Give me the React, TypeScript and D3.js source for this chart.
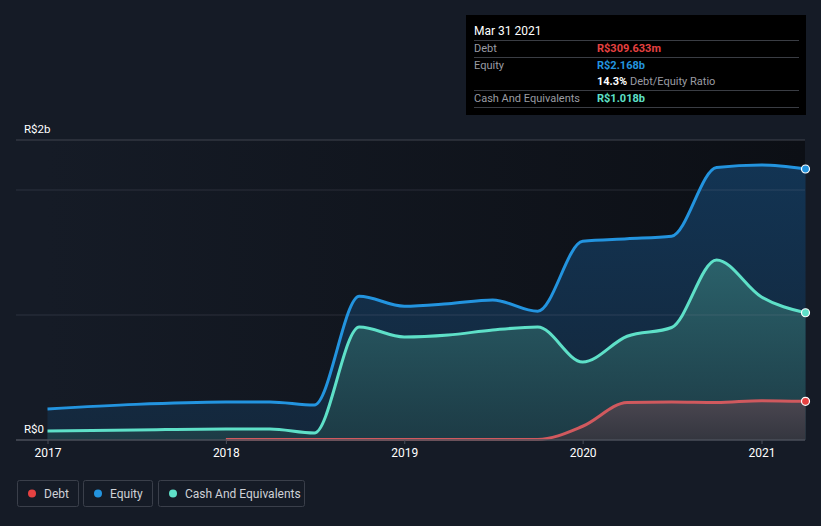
import React from "react";
import * as d3 from "d3";

const dates = ["2016-12-31","2017-06-30","2017-12-31","2018-03-31","2018-06-30","2018-09-30","2018-12-31","2019-03-31","2019-06-30","2019-09-30","2019-12-31","2020-03-31","2020-06-30","2020-09-30","2020-12-31","2021-03-31"];
const equity = [0.248,0.285,0.304,0.305,0.28,1.15,1.07,1.09,1.12,1.03,1.59,1.61,1.63,2.18,2.2,2.168];
const cash = [0.072,0.08,0.088,0.088,0.056,0.904,0.824,0.84,0.88,0.904,0.624,0.83,0.9,1.44,1.144,1.018];
const debtDates = ["2017-12-31","2018-03-31","2018-06-30","2018-09-30","2018-12-31","2019-03-31","2019-06-30","2019-09-30","2019-12-31","2020-03-31","2020-06-30","2020-09-30","2020-12-31","2021-03-31"];
const debt = [0.005,0.005,0.005,0.005,0.005,0.005,0.005,0.005,0.11,0.3,0.304,0.3,0.315,0.3096];
const xTicks = ["2017","2018","2019","2020","2021"];
const yLabels = [{ v: 2, t: "R$2b" }, { v: 0, t: "R$0" }];
const gridVals = [1, 2];

const W = 821, H = 526;
const LEFT = 16, RIGHT = 805, TOP = 140, BASE = 440;
const C_DEBT = "#e64141", C_DEBT_LINE = "#d0595e", C_EQ = "#2394df", C_CASH = "#5ee0c8";
const FONT = "Roboto, 'Open Sans', sans-serif";

export default function App() {
  const parse = d3.timeParse("%Y-%m-%d");
  const x = d3.scaleTime().domain([new Date(2017, 0, 1), new Date(2021, 0, 1)]).range([48, 762]);
  const y = d3.scaleLinear().domain([0, 2.4]).range([BASE, TOP]);
  const curve = d3.curveMonotoneX;
  type P = { d: Date; v: number };
  const eqData: P[] = dates.map((s, i) => ({ d: parse(s)!, v: equity[i] }));
  const cashData: P[] = dates.map((s, i) => ({ d: parse(s)!, v: cash[i] }));
  const debtData: P[] = debtDates.map((s, i) => ({ d: parse(s)!, v: debt[i] }));
  const line = d3.line<P>().x(p => x(p.d)).y(p => y(p.v)).curve(curve);
  const area = d3.area<P>().x(p => x(p.d)).y0(BASE).y1(p => y(p.v)).curve(curve);
  const last = (arr: P[]) => arr[arr.length - 1];

  const tipX = 466, tipY = 15, tipW = 340, tipH = 100;
  const lx = 474, vx = 597, lineEnd = 799;
  const x0 = x(eqData[0].d);

  return (
    <svg width={W} height={H} style={{ position: "absolute", left: 0, top: 0, background: "#151b26", fontFamily: FONT }}>
      <defs>
        <linearGradient id="bg" x1="0" x2="1" y1="0" y2="0">
          <stop offset="0" stopColor="#151b26" />
          <stop offset="1" stopColor="#0c0f15" />
        </linearGradient>
        <linearGradient id="eqFill" x1="0" x2="0" y1="0" y2="1">
          <stop offset="0" stopColor="#13385a" stopOpacity="0.9" />
          <stop offset="1" stopColor="#142a40" stopOpacity="0.85" />
        </linearGradient>
        <linearGradient id="cashFill" x1="0" x2="0" y1="0" y2="1">
          <stop offset="0" stopColor="#2f6a70" stopOpacity="0.85" />
          <stop offset="1" stopColor="#1f4048" stopOpacity="0.8" />
        </linearGradient>
        <linearGradient id="debtFill" x1="0" x2="0" y1="0" y2="1">
          <stop offset="0" stopColor="#4a4650" />
          <stop offset="1" stopColor="#34363f" />
        </linearGradient>
      </defs>
      <rect x={x0} y={TOP} width={RIGHT - x0} height={BASE - TOP} fill="url(#bg)" />
      <line x1={LEFT} x2={RIGHT} y1={TOP} y2={TOP} stroke="#40444e" strokeWidth={1} />
      <path d={area(eqData)!} fill="url(#eqFill)" />
      <path d={area(cashData)!} fill="url(#cashFill)" />
      <path d={area(debtData)!} fill="url(#debtFill)" />
      {gridVals.map(g => (
        <line key={g} x1={LEFT} x2={RIGHT} y1={y(g)} y2={y(g)} stroke="#8a93a3" strokeOpacity={0.2} strokeWidth={1} />
      ))}
      <path d={line(eqData)!} fill="none" stroke={C_EQ} strokeWidth={3} />
      <path d={line(cashData)!} fill="none" stroke={C_CASH} strokeWidth={3} />
      <path d={line(debtData)!} fill="none" stroke={C_DEBT_LINE} strokeWidth={3} />
      <line x1={LEFT} x2={RIGHT} y1={BASE} y2={BASE} stroke="#4a4f5a" strokeWidth={1.5} />
      {xTicks.map(t => {
        const xx = x(new Date(+t, 0, 1));
        return (
          <g key={t}>
            <line x1={xx} x2={xx} y1={BASE} y2={BASE + 4} stroke="#4a4f5a" />
            <text x={xx} y={457} fill="#ffffff" fontSize={12} textAnchor="middle">{t}</text>
          </g>
        );
      })}
      {yLabels.map(l => (
        <text key={l.t} x={24} y={l.v === 0 ? 433 : 133} fill="#ffffff" fontSize={11.5}>{l.t}</text>
      ))}
      {[
        { p: last(eqData), c: C_EQ },
        { p: last(cashData), c: C_CASH },
        { p: last(debtData), c: C_DEBT },
      ].map((m, i) => (
        <circle key={i} cx={x(m.p.d)} cy={y(m.p.v)} r={4} fill={m.c} stroke="#ffffff" strokeWidth={1.2} />
      ))}
      {/* tooltip */}
      <rect x={tipX} y={tipY} width={tipW} height={tipH} fill="#000000" />
      <text x={lx} y={35} fill="#ffffff" fontSize={12}>Mar 31 2021</text>
      {[40, 57, 90, 107].map(yy => (
        <line key={yy} x1={lx} x2={lineEnd} y1={yy + 0.5} y2={yy + 0.5} stroke="#3a3d44" />
      ))}
      <text x={lx} y={52} fill="#9a9ca3" fontSize={11}>Debt</text>
      <text x={vx} y={52} fill={C_DEBT} fontSize={11} fontWeight="bold">R$309.633m</text>
      <text x={lx} y={69} fill="#9a9ca3" fontSize={11}>Equity</text>
      <text x={vx} y={69} fill={C_EQ} fontSize={11} fontWeight="bold">R$2.168b</text>
      <text x={vx} y={85} fill="#ffffff" fontSize={11}>
        <tspan fontWeight="bold">14.3%</tspan>
        <tspan fill="#9a9ca3"> Debt/Equity Ratio</tspan>
      </text>
      <text x={lx} y={102} fill="#9a9ca3" fontSize={11}>Cash And Equivalents</text>
      <text x={vx} y={102} fill={C_CASH} fontSize={11} fontWeight="bold">R$1.018b</text>
      {/* legend */}
      {[
        { t: "Debt", c: C_DEBT, x0: 17, w: 61 },
        { t: "Equity", c: C_EQ, x0: 83, w: 69 },
        { t: "Cash And Equivalents", c: C_CASH, x0: 158, w: 146 },
      ].map(l => (
        <g key={l.t}>
          <rect x={l.x0 + 0.5} y={480.5} width={l.w} height={26} rx={2} fill="none" stroke="#3a3f4a" />
          <circle cx={l.x0 + 15} cy={493.5} r={4} fill={l.c} />
          <text x={l.x0 + 27} y={497.5} fill="#cfd1d6" fontSize={12}>{l.t}</text>
        </g>
      ))}
    </svg>
  );
}
